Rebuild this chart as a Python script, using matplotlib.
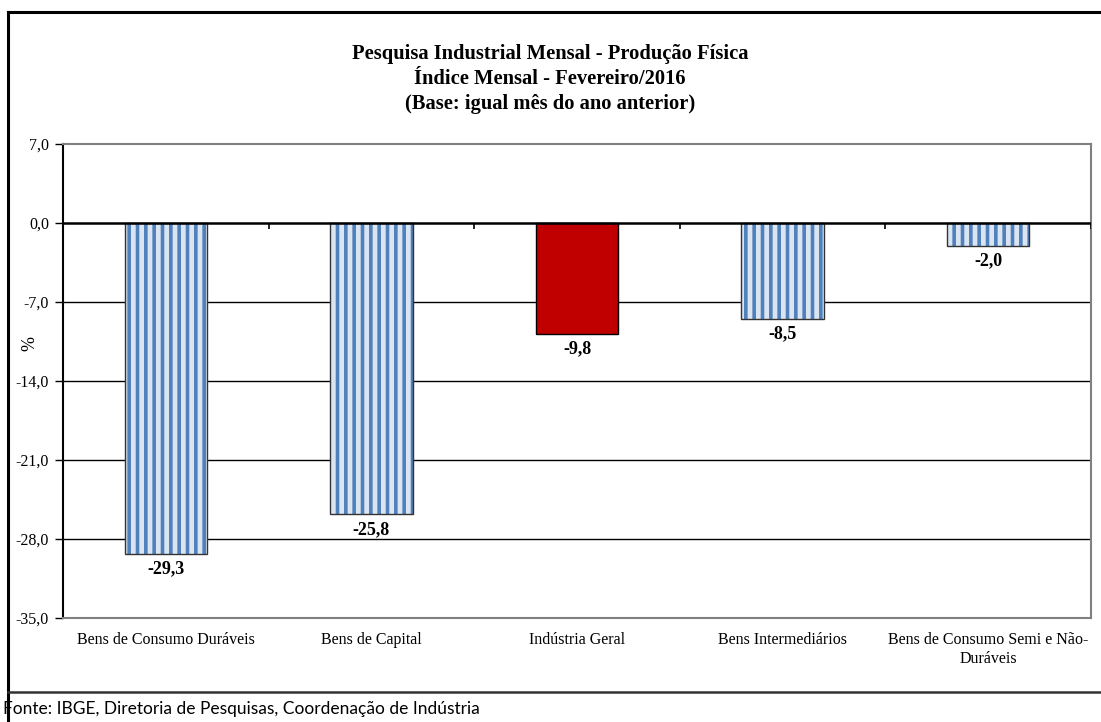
import numpy as np
import matplotlib.pyplot as plt
from matplotlib.lines import Line2D

categories = ['Bens de Consumo Duráveis', 'Bens de Capital', 'Indústria Geral',
              'Bens Intermediários', 'Bens de Consumo Semi e Não-\nDuráveis']
values = [-29.3, -25.8, -9.8, -8.5, -2.0]
highlight = 'Indústria Geral'
yticks = [7.0, 0.0, -7.0, -14.0, -21.0, -28.0, -35.0]

title = ('Pesquisa Industrial Mensal - Produção Física\n'
         'Índice Mensal - Fevereiro/2016\n'
         '(Base: igual mês do ano anterior)')
source = 'Fonte: IBGE, Diretoria de Pesquisas, Coordenação de Indústria'

serif = ['Liberation Serif', 'DejaVu Serif']
plt.rcParams['font.family'] = serif
plt.rcParams['hatch.linewidth'] = 2.6

W, H = 1101, 722
fig = plt.figure(figsize=(W / 100, H / 100), dpi=100)

# outer chart frame
fig.add_artist(Line2D([8 / W, 8 / W], [0, 1 - 12 / H], transform=fig.transFigure,
                      color='black', lw=2.2))
fig.add_artist(Line2D([8 / W, 1], [1 - 12 / H, 1 - 12 / H], transform=fig.transFigure,
                      color='black', lw=2.2))
fig.add_artist(Line2D([8 / W, 1], [1 - 692 / H, 1 - 692 / H], transform=fig.transFigure,
                      color='#333333', lw=1.8))

ax = fig.add_axes([63 / W, 1 - 618 / H, 1028 / W, 474 / H])
x = np.arange(len(categories))

for i, (c, v) in enumerate(zip(categories, values)):
    if c == highlight:
        ax.bar(i, v, width=0.4, color='#C00000', edgecolor='black', lw=1.0, zorder=3)
    else:
        ax.bar(i, v, width=0.4, color='#dbe5f1', edgecolor='#4f81bd', hatch='||',
               lw=0, zorder=3)
        ax.bar(i, v, width=0.4, color='none', edgecolor='#333333', lw=1.0, zorder=4)
    ax.text(i, v - 0.6, f'{v:.1f}'.replace('.', ','), ha='center', va='top',
            fontsize=13, fontweight='bold', zorder=5)

ax.set_xlim(-0.5, len(categories) - 0.5)
ax.set_ylim(yticks[-1], yticks[0])
ax.set_yticks(yticks)
ax.set_yticklabels([f'{t:.1f}'.replace('.', ',') for t in yticks], fontsize=11.5)
ax.tick_params(axis='y', direction='out', length=6, width=1, color='black', pad=4)

ax.set_xticks(x)
ax.set_xticklabels(categories, fontsize=11.5, linespacing=1.3)
ax.tick_params(axis='x', length=0, pad=10)

for t in yticks[2:-1]:
    ax.axhline(t, color='black', lw=1.0, zorder=1)
ax.axhline(0, color='black', lw=1.8, zorder=6)
ax.vlines(np.arange(len(categories) + 1) - 0.5, 0, -0.55, color='black', lw=1.2, zorder=6)

ax.spines['left'].set_color('black')
ax.spines['left'].set_linewidth(1.5)
for s in ['top', 'right', 'bottom']:
    ax.spines[s].set_color('#808080')
    ax.spines[s].set_linewidth(1.5)

ax.set_ylabel('%', fontsize=13)
ax.yaxis.set_label_coords(-25 / 1028, 0.58)

fig.text(550 / W, 1 - 44 / H, title, ha='center', va='top', fontsize=14.8,
         fontweight='bold', linespacing=1.35)
fig.text(3 / W, 1 - 709 / H, source, ha='left', va='center', fontsize=12.5,
         family=['Lato', 'DejaVu Sans'])

fig.savefig('out.png', dpi=100)
